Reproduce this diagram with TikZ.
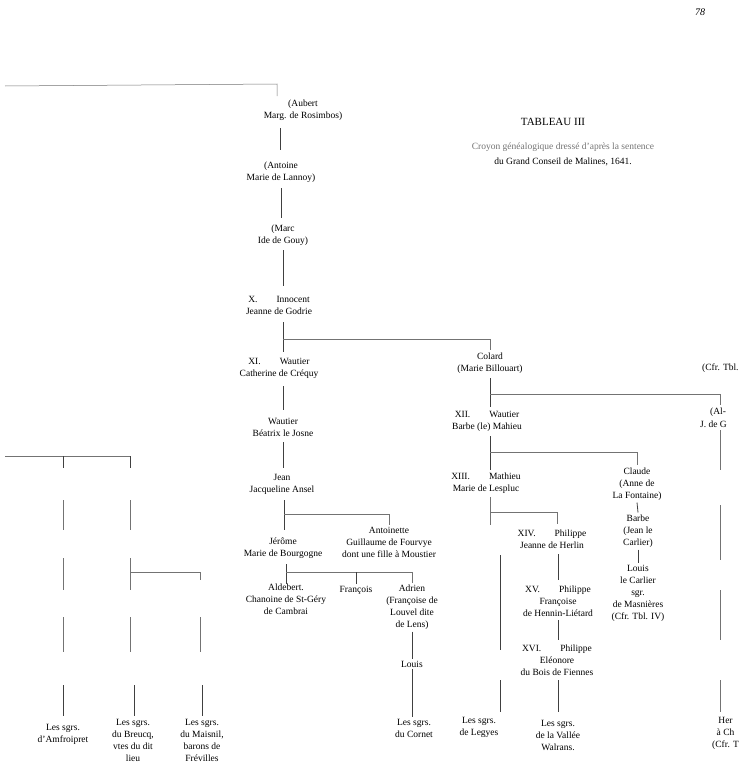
\documentclass[tikz,border=0pt]{standalone}
\usepackage{fontspec}
\setmainfont{Liberation Serif}
\begin{document}
\begin{tikzpicture}[x=1pt,y=-1pt,
  person/.style={align=center,font=\fontsize{9.5}{12}\selectfont,inner sep=2pt},
  line/.style={line width=0.8pt,color=black!75},
  faint/.style={line width=0.5pt,color=black!55}]
\useasboundingbox (0,0) rectangle (739,768);
\clip (0,0) rectangle (739,768);

\node[font=\fontsize{10}{12}\selectfont] (page) at (700,12) {\itshape 78};
\node[font=\fontsize{11}{13}\selectfont] (title) at (553,122) {TABLEAU III};
\node[person,font=\fontsize{9.5}{12}\selectfont,color=black!55] (sub) at (563,147) {Croyon généalogique dressé d'après la sentence};
\node[person] (sub2) at (563,162) {du Grand Conseil de Malines, 1641.};

% tronc
\node[person] (aubert) at (303,110) {(Aubert\\Marg. de Rosimbos)};
\node[person] (antoine) at (281,172) {(Antoine\\Marie de Lannoy)};
\node[person] (marc) at (283,235) {(Marc\\Ide de Gouy)};
\node[person] (innocent) at (279,305) {X.\qquad Innocent\\Jeanne de Godrie};
\node[person] (wautier1) at (279,368) {XI.\qquad Wautier\\Catherine de Créquy};
\node[person] (wautier2) at (283,427) {Wautier\\Béatrix le Josne};
\node[person] (jean) at (282,484) {Jean\\Jacqueline Ansel};
\node[person] (jerome) at (283,548) {Jérôme\\Marie de Bourgogne};
\node[person] (antoinette) at (389,542) {Antoinette\\Guillaume de Fourvye\\dont une fille à Moustier};
\node[person] (aldebert) at (286,599) {Aldebert.\\Chanoine de St-Géry\\de Cambrai};
\node[person] (francois) at (356,590) {François};
\node[person] (adrien) at (412,607) {Adrien\\(Françoise de\\Louvel dite\\de Lens)};
\node[person] (louis1) at (412,664) {Louis};
\node[person] (cornet) at (414,728) {Les sgrs.\\du Cornet};

% Colard
\node[person] (colard) at (490,363) {Colard\\(Marie Billouart)};
\node[person] (wautier3) at (487,421) {XII.\qquad Wautier\\Barbe (le) Mahieu};
\node[person] (mathieu) at (486,483) {XIII.\qquad Mathieu\\Marie de Lespluc};
\node[person] (claude) at (637,484) {Claude\\(Anne de\\La Fontaine)};
\node[person] (philippe1) at (552,539) {XIV.\qquad Philippe\\Jeanne de Herlin};
\node[person] (philippe2) at (558,601) {XV.\qquad Philippe\\Françoise\\de Hennin-Liétard};
\node[person] (philippe3) at (557,660) {XVI.\qquad Philippe\\Eléonore\\du Bois de Fiennes};
\node[person] (vallee) at (558,735) {Les sgrs.\\de la Vallée\\Walrans.};
\node[person] (legyes) at (479,727) {Les sgrs.\\de Legyes};
\node[person] (barbe) at (638,531) {Barbe\\(Jean le\\Carlier)};
\node[person] (louis2) at (638,593) {Louis\\le Carlier\\sgr.\\de Masnières\\(Cfr. Tbl. IV)};

% bord droit
\node[person,anchor=west] (cfr) at (700,368) {(Cfr. Tbl.};
\node[person,anchor=west] (al) at (708,412) {(Al-};
\node[person,anchor=west] (jdeg) at (698,424) {J. de G};
\node[person,anchor=west] (her) at (710,733) {Her\\à Ch\\(Cfr. T};

% branches de gauche
\node[person] (amfroipret) at (63,734) {Les sgrs.\\d'Amfroipret};
\node[person] (breucq) at (133,740) {Les sgrs.\\du Breucq,\\vtes du dit\\lieu};
\node[person] (maisnil) at (202,740) {Les sgrs.\\du Maisnil,\\barons de\\Frévilles};

% liens du tronc
\coordinate (top) at (5,86);
\draw[faint] (top) -- (277,84) -- (277,96);
\draw[line] (280,128) -- (280,150);
\draw[line] (281,188) -- (281,218);
\draw[line] (283,250) -- (283,286);
\draw[line] (283,322) -- (283,352);
\draw[faint] (283,339) -- (colard.north |- 283,339) -- (colard.north);
\draw[line] (283,386) -- (283,410);
\draw[line] (283,442) -- (283,468);
\draw[line] (284,500) -- (284,530);
\draw[faint] (284,514) -- (antoinette.north |- 284,514) -- (antoinette.north);
\draw[line] (286,564) -- (286,584);
\draw[faint] (286,572) -- (adrien.north |- 286,572) -- (adrien.north);
\draw[line] (francois.north |- 286,572) -- (francois.north);
\draw[line] (adrien.south) -- (louis1.north);
\draw[line] (louis1.south) -- (louis1.south |- cornet.north);

% liens de Colard
\draw[line] (490,378) -- (490,407);
\draw[faint] (490,394) -- (720,394) -- (720,405);
\draw[line] (490,436) -- (490,470);
\draw[faint] (490,452) -- (claude.north |- 490,452) -- (claude.north);
\draw[faint] (490,497) -- (490,525);
\draw[faint] (490,512) -- (557,512) -- (557,524);
\draw[line] (500,555) -- (500,650);
\draw[line] (500,680) -- (500,712);
\draw[line] (558,554) -- (558,580);
\draw[line] (558,620) -- (558,640);
\draw[line] (558,680) -- (558,712);
\draw[line] (claude.south) -- (barbe.north);
\draw[line] (barbe.south) -- (louis2.north);

% colonne de droite
\foreach \ya/\yb in {430/470,505/560,590/640,680/712}
  \draw[faint] (720,\ya) -- (720,\yb);

% branches de gauche
\draw[faint] (5,456) -- (130,456);
\foreach \x in {63,130} {
  \draw[line] (\x,456) -- (\x,468);
  \foreach \ya/\yb in {500/530,558/590,617/652}
    \draw[faint] (\x,\ya) -- (\x,\yb);
}
\draw[faint] (130,572) -- (200,572) -- (200,580);
\draw[faint] (200,617) -- (200,652);
\draw[line] (63,685) -- (63,716);
\draw[line] (134,685) -- (134,716);
\draw[line] (202,685) -- (202,716);
\end{tikzpicture}
\end{document}
